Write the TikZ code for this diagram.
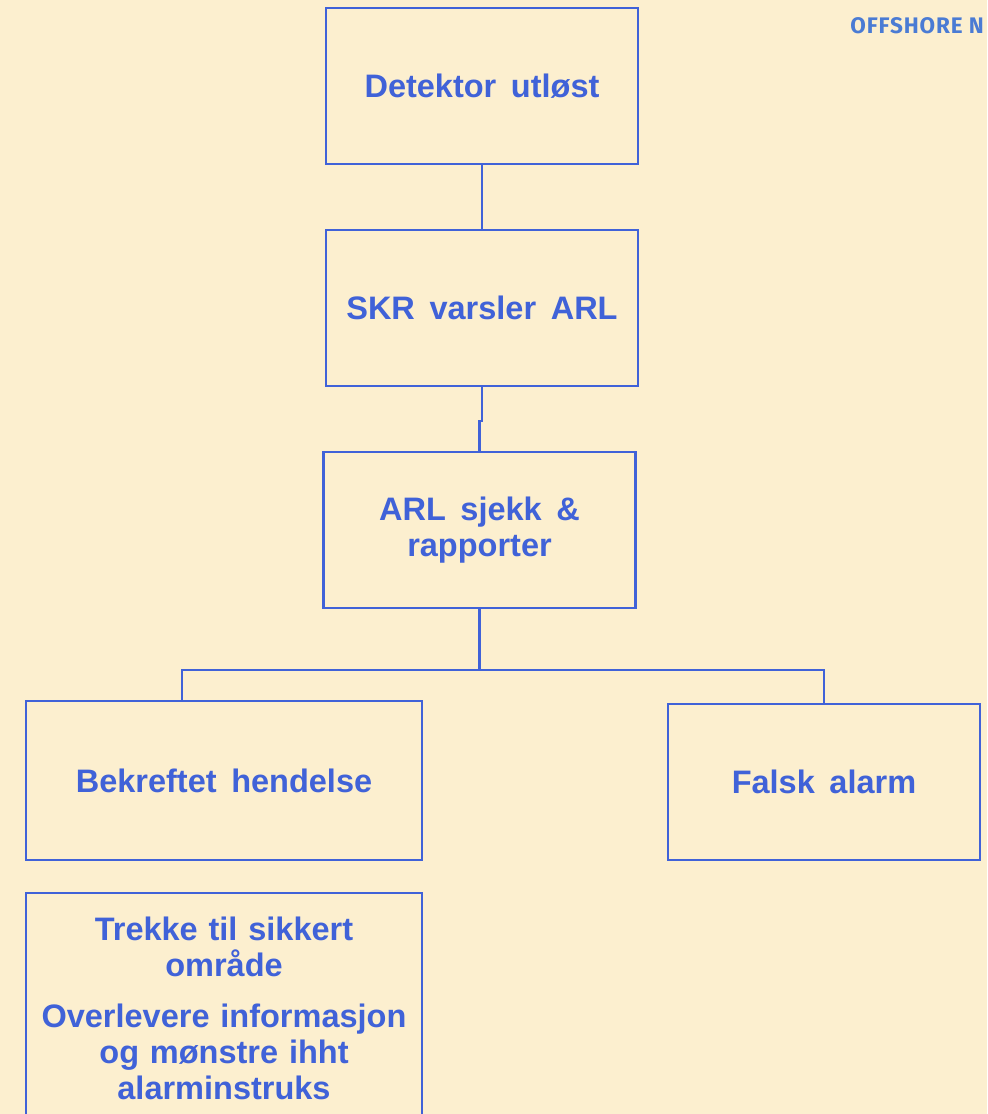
\documentclass[tikz,border=0pt]{standalone}
\usepackage{fontspec}
\setmainfont{Liberation Sans}
\newfontfamily\logofont[LetterSpace=4]{Fira Sans}
\definecolor{paper}{HTML}{FCEFCF}
\definecolor{ink}{HTML}{4062D8}
\definecolor{logoblue}{HTML}{4A7BD4}
\newcommand{\boxfont}{\fontsize{18.5}{20.5}\selectfont\bfseries\spaceskip=0.45em plus 0.1em}
\begin{document}
\begin{tikzpicture}[x=0.02cm,y=-0.02cm,
		box/.style={draw=ink, line width=1.4pt, rectangle, minimum width=6.24cm, minimum height=3.12cm, align=center, text=ink, font=\boxfont},
		widebox/.style={box, minimum width=7.92cm, minimum height=3.18cm},
		link/.style={draw=ink, line width=1.4pt}]
	\fill[paper] (0,0) rectangle (987,1114);
	\useasboundingbox (0,0) rectangle (987,1114);
	% logo
	\node[anchor=base west, inner sep=0pt, text=logoblue, font=\logofont\bfseries\fontsize{12.8}{15}\selectfont] (logo) at (850,34) {OFFSHORE N};
	% boxes
	\node[box] (det) at (482,86) {Detektor utløst};
	\node[box] (skr) at (482,308) {SKR varsler ARL};
	\node[box] (arl) at (479.5,530) {ARL sjekk \&\\rapporter};
	\node[widebox] (bek) at (224,780.5) {Bekreftet hendelse};
	\node[box] (falsk) at (824,782) {Falsk alarm};
	\node[widebox, minimum height=4.62cm, text width=7.5cm] (tiltak) at (224,1008.5)
		{Trekke til sikkert\\område\\[8.5pt]Overlevere informasjon\\og mønstre ihht\\alarminstruks};
	% connectors
	\draw[link] (det.south) -- (skr.north);
	\draw[link] (skr.south) -- ++(0,34) -| (arl.north);
	\draw[link] (arl.south) -- ++(0,61) coordinate (split);
	\draw[link] ([xshift=-0.84cm]bek.north) |- (split) -| (falsk.north);
\end{tikzpicture}
\end{document}
